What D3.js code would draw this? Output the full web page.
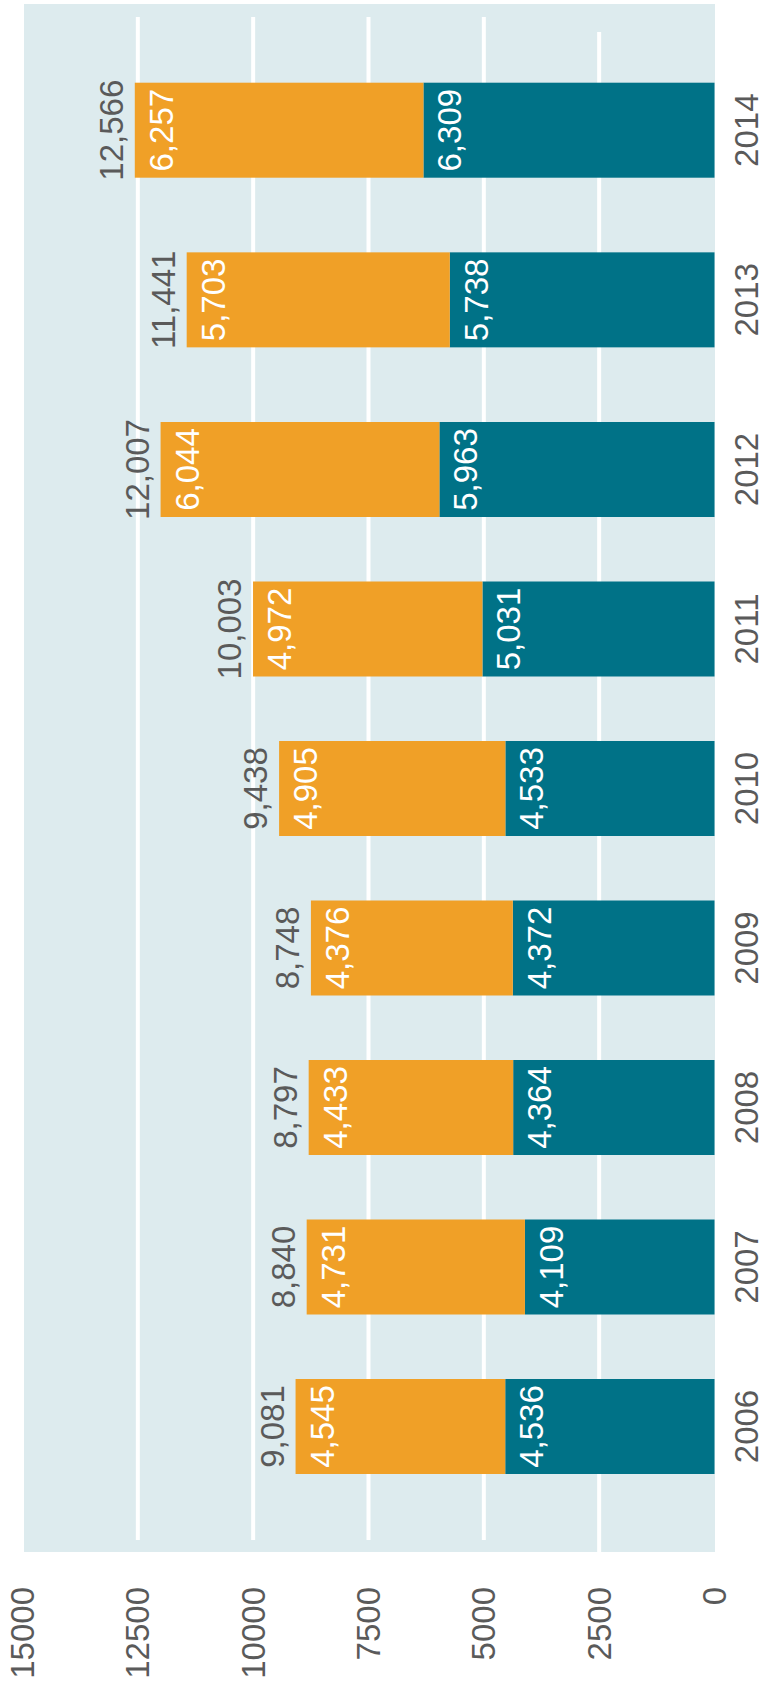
<!DOCTYPE html>
<html>
<head>
<meta charset="utf-8">
<script src="https://cdn.jsdelivr.net/npm/d3@7/dist/d3.min.js"></script>
<style>
    body { margin: 0; padding: 0; background: #ffffff; }
</style>
</head>
<body>
<div id="main"></div>
<script>
// values (teal = lower segment, orange = upper segment)
const years = [2006, 2007, 2008, 2009, 2010, 2011, 2012, 2013, 2014];
const lowerValues = [4536, 4109, 4364, 4372, 4533, 5031, 5963, 5738, 6309];
const upperValues = [4545, 4731, 4433, 4376, 4905, 4972, 6044, 5703, 6257];
const valueTicks = [0, 2500, 5000, 7500, 10000, 12500, 15000];
const gridValues = [2500, 5000, 7500, 10000, 12500];

const WIDTH = 767;
const HEIGHT = 1690;
const BARTHICK = 95;
const FONT = 'Helvetica, "Liberation Sans", Arial, sans-serif';
const FONTSIZE = 33;
const TEAL = '#007287';
const ORANGE = '#f0a027';
const BG = '#ddebee';
const GRAY = '#5a5a5a';

const rows = years.map((year, i) => ({year, lower: lowerValues[i], upper: upperValues[i]}));
const series = d3.stack().keys(['lower', 'upper'])(rows);

// the chart is turned on its side: values run right to left, years bottom to top
const scaleX = d3.scaleLinear().domain([0, 15000]).range([714.5, 22.5]);
const scaleY = d3.scaleLinear().domain([2006, 2012, 2014]).range([1379, 422, 82.7]);
const fmt = d3.format(',');

const svg = d3.select('#main').append('svg')
    .attr('width', WIDTH)
    .attr('height', HEIGHT)
    .style('display', 'block');

svg.append('rect')
    .attr('x', 24)
    .attr('y', 4)
    .attr('width', scaleX(0) + 0.5 - 24)
    .attr('height', 1548)
    .attr('fill', BG);

svg.append('g').selectAll('line').data(gridValues).enter().append('line')
    .attr('x1', (d) => scaleX(d))
    .attr('x2', (d) => scaleX(d))
    .attr('y1', (d) => d === 2500 ? 32 : 17)
    .attr('y2', (d) => d === 2500 ? 1552 : 1540)
    .attr('stroke', '#ffffff')
    .attr('stroke-width', 4);

const layers = svg.append('g').selectAll('g').data(series).enter().append('g')
    .attr('fill', (s) => s.key === 'lower' ? TEAL : ORANGE);

layers.selectAll('rect').data((s) => s).enter().append('rect')
    .attr('x', (d) => scaleX(d[1]))
    .attr('y', (d) => scaleY(d.data.year))
    .attr('width', (d) => scaleX(d[0]) - scaleX(d[1]))
    .attr('height', BARTHICK);

const rotated = (x, y) => `translate(${x}, ${y}) rotate(-90)`;

layers.selectAll('text').data((s) => s).enter().append('text')
    .attr('transform', (d) => rotated(scaleX(d[1]) + 38, scaleY(d.data.year) + BARTHICK / 2))
    .attr('text-anchor', 'middle')
    .attr('fill', '#ffffff')
    .style('font-family', FONT)
    .style('font-size', FONTSIZE + 'px')
    .text((d) => fmt(d[1] - d[0]));

svg.append('g').selectAll('text').data(rows).enter().append('text')
    .attr('transform', (d) => rotated(scaleX(d.lower + d.upper) - 12, scaleY(d.year) + BARTHICK / 2))
    .attr('text-anchor', 'middle')
    .attr('fill', GRAY)
    .style('font-family', FONT)
    .style('font-size', FONTSIZE + 'px')
    .text((d) => fmt(d.lower + d.upper));

svg.append('g').selectAll('text').data(rows).enter().append('text')
    .attr('transform', (d) => rotated(758, scaleY(d.year) + BARTHICK / 2))
    .attr('text-anchor', 'middle')
    .attr('fill', GRAY)
    .style('font-family', FONT)
    .style('font-size', FONTSIZE + 'px')
    .text((d) => d.year);

svg.append('g').selectAll('text').data(valueTicks).enter().append('text')
    .attr('transform', (d) => rotated(scaleX(d) + 11.5, 1587))
    .attr('text-anchor', 'end')
    .attr('fill', GRAY)
    .style('font-family', FONT)
    .style('font-size', FONTSIZE + 'px')
    .text((d) => d);
</script>
</body>
</html>
